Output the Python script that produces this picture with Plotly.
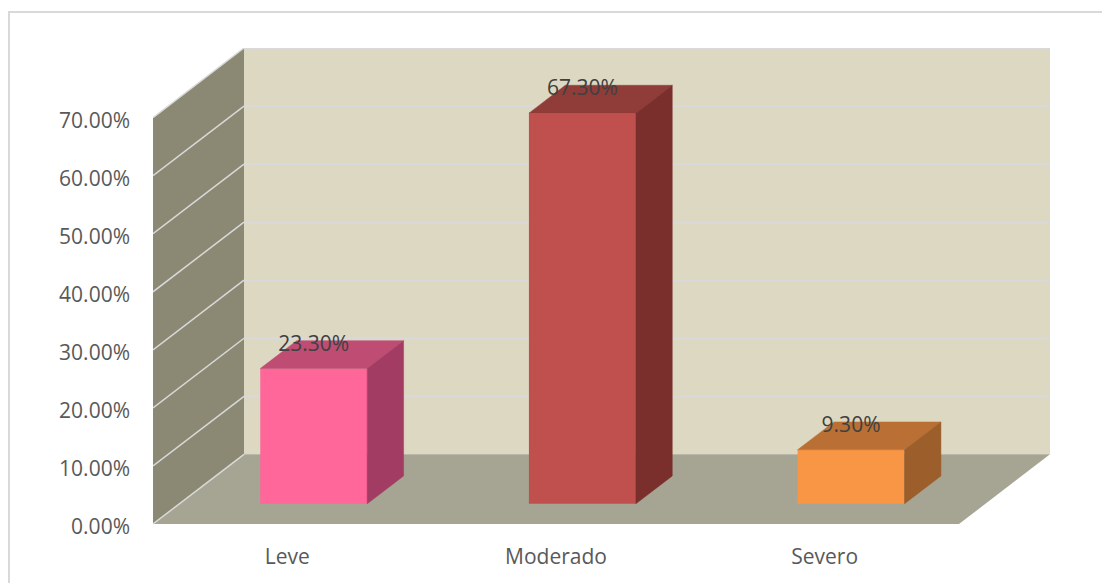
import plotly.graph_objects as go

categories = ["Leve", "Moderado", "Severo"]
values = [0.233, 0.673, 0.093]
y_ticks = [0.0, 0.1, 0.2, 0.3, 0.4, 0.5, 0.6, 0.7]

front_colors = ["#FF6699", "#C0504D", "#F99645"]
top_colors = ["#BF4D73", "#903C39", "#BA7034"]
side_colors = ["#A33C62", "#7A2F2D", "#9C5E2A"]

WALL = "#DDD8C2"
SIDE_WALL = "#8B8874"
FLOOR = "#A6A492"
GRID = "#D9D9D9"

# oblique projection: depth 0 is the front of the floor, depth 1 the back wall
SKEW_X = 0.3387
SKEW_Y = 0.12
BAR_WIDTH = 0.398
BAR_D0 = 0.29
BAR_D1 = 0.69
Y_MAX = y_ticks[-1]
N = len(categories)
PX = (Y_MAX + SKEW_Y) / 476  # one pixel in y axis units


def project(x, v, d):
    return x + SKEW_X * d, v + SKEW_Y * d


def poly_path(points):
    return "M " + " L ".join(f"{x},{y}" for x, y in points) + " Z"


def face(points, color):
    return go.Scatter(
        x=[p[0] for p in points] + [points[0][0]],
        y=[p[1] for p in points] + [points[0][1]],
        mode="lines",
        fill="toself",
        fillcolor=color,
        line=dict(color=color, width=0.5),
        hoverinfo="skip",
        showlegend=False,
    )


fig = go.Figure()

# walls and floor
wall_shapes = [
    dict(
        type="path",
        path=poly_path([project(0, 0, 1), project(N, 0, 1), project(N, Y_MAX, 1), project(0, Y_MAX, 1)]),
        fillcolor=WALL,
        line_width=0,
        layer="below",
    ),
    dict(
        type="path",
        path=poly_path([project(0, 0, 0), project(0, 0, 1), project(0, Y_MAX, 1), project(0, Y_MAX, 0)]),
        fillcolor=SIDE_WALL,
        line_width=0,
        layer="below",
    ),
    dict(
        type="path",
        path=poly_path([project(0, 0, 0), project(N, 0, 0), project(N, 0, 1), project(0, 0, 1)]),
        fillcolor=FLOOR,
        line_width=0,
        layer="below",
    ),
]
for tick in y_ticks:
    x0, y0 = project(0, tick, 0)
    x1, y1 = project(0, tick, 1)
    x2, y2 = project(N, tick, 1)
    wall_shapes.append(dict(type="line", x0=x0, y0=y0, x1=x1, y1=y1, line=dict(color=GRID, width=1.5), layer="below"))
    if tick > 0:
        wall_shapes.append(dict(type="line", x0=x1, y0=y1, x1=x2, y1=y2, line=dict(color=GRID, width=2), layer="below"))

# outer chart border runs off the right and bottom of the page
wall_shapes.append(
    dict(
        type="rect",
        xref="paper",
        yref="paper",
        x0=(9 - 153) / 897,
        x1=1.2,
        y0=-0.3,
        y1=1 + 36 / 480,
        line=dict(color=GRID, width=2),
        fillcolor="rgba(0,0,0,0)",
        layer="below",
    )
)

# bar fronts
centers = [i + 0.5 for i in range(N)]
bar_x = [project(c, 0, BAR_D0)[0] for c in centers]
bar_base = [project(c, 0, BAR_D0)[1] for c in centers]
fig.add_trace(
    go.Bar(
        x=bar_x,
        y=values,
        base=bar_base,
        width=BAR_WIDTH,
        marker=dict(color=front_colors, line_width=0),
        hoverinfo="skip",
        showlegend=False,
    )
)

# bar tops and sides
for c, v, top_c, side_c in zip(centers, values, top_colors, side_colors):
    left = c - BAR_WIDTH / 2
    right = c + BAR_WIDTH / 2
    fig.add_trace(
        face(
            [project(left, v, BAR_D0), project(right, v, BAR_D0), project(right, v, BAR_D1), project(left, v, BAR_D1)],
            top_c,
        )
    )
    fig.add_trace(
        face(
            [project(right, 0, BAR_D0), project(right, 0, BAR_D1), project(right, v, BAR_D1), project(right, v, BAR_D0)],
            side_c,
        )
    )

# value labels sit just over the top face
fig.add_trace(
    go.Scatter(
        x=bar_x,
        y=[project(0, v, BAR_D0)[1] + 0.0395 for v in values],
        mode="text",
        text=[f"{v:.2%}" for v in values],
        textposition="middle center",
        textfont=dict(family="Open Sans", size=21, color="#404040"),
        hoverinfo="skip",
        showlegend=False,
    )
)

# empty trace so the overlaid axis carrying the tick labels gets drawn
fig.add_trace(go.Scatter(x=[None], y=[None], yaxis="y2", hoverinfo="skip", showlegend=False))

fig.update_layout(
    width=1102,
    height=583,
    margin=dict(l=153, r=52, t=48, b=55),
    paper_bgcolor="white",
    plot_bgcolor="white",
    shapes=wall_shapes,
    font=dict(family="Open Sans", size=21, color="#595959"),
    # the plot runs 4px under the 0 line; the labels sit 3px under their gridlines
    yaxis=dict(
        range=[-4 * PX, Y_MAX + SKEW_Y],
        showticklabels=False,
        showgrid=False,
        zeroline=False,
        showline=False,
        ticks="",
    ),
    yaxis2=dict(
        overlaying="y",
        side="left",
        range=[-1 * PX, Y_MAX + SKEW_Y + 3 * PX],
        tickmode="array",
        tickvals=y_ticks,
        tickformat=".2%",
        showgrid=False,
        zeroline=False,
        showline=False,
        ticks="",
        ticklabelstandoff=22,
    ),
)
fig.update_xaxes(
    range=[0, N + SKEW_X],
    tickmode="array",
    tickvals=centers,
    ticktext=categories,
    showgrid=False,
    zeroline=False,
    showline=False,
    ticks="",
    ticklabelstandoff=14,
)

# drop the browser's default page margin so the figure fills the window
fig.write_html(
    "out.html",
    config=dict(displayModeBar=False),
    post_script="document.body.style.margin='0';document.body.style.overflow='hidden';",
)
